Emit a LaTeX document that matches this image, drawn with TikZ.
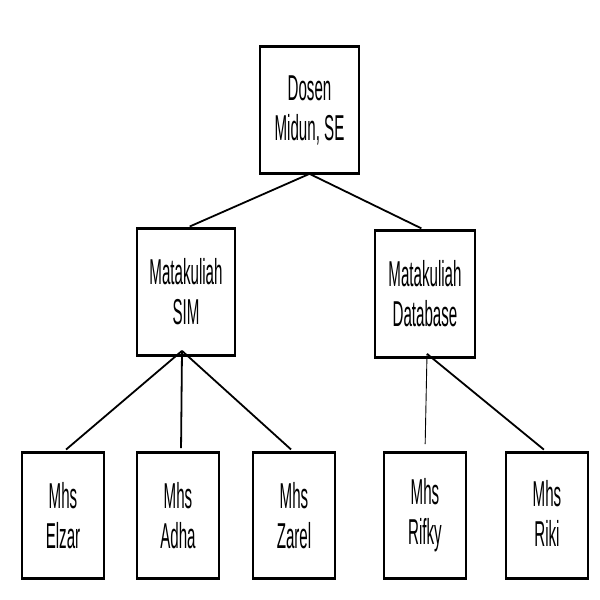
\documentclass[tikz,border=0pt]{standalone}
\usepackage{fontspec}
\setmainfont[FakeStretch=0.42]{Liberation Sans}
\usepackage{tikz}
\usetikzlibrary{calc}

\begin{document}
\begin{tikzpicture}[x=1pt,y=1pt]
		\tikzstyle{every node}=[font=\fontsize{36}{40}\selectfont]
		\tikzstyle{box}=[draw, line width=1.7pt, align=center, inner sep=0pt, minimum height=126pt]
		\tikzstyle{link}=[line width=1.8pt, shorten >=4pt]
		\useasboundingbox (0,0) rectangle (600,600);
		
		% dosen
		\node [box, minimum width=99pt] (dosen) at (309.5,490) {Dosen\\Midun, SE};
		
		% matakuliah
		\node [box, minimum width=98pt] (sim) at (186,308) {Matakuliah\\SIM};
		\node [box, minimum width=100pt] (db) at (425,306) {Matakuliah\\Database};
		
		% mahasiswa
		\node [box, minimum width=82pt, minimum height=125pt] (elzar) at (63,84.5) {Mhs\\Elzar};
		\node [box, minimum width=82pt, minimum height=125pt] (adha) at (178,84.5) {Mhs\\Adha};
		\node [box, minimum width=82pt, minimum height=125pt] (zarel) at (294,84.5) {Mhs\\Zarel};
		\node [box, minimum width=82pt, minimum height=125pt] (rifky) at (425,84.5) {Mhs\\Rifky};
		\node [box, minimum width=82pt, minimum height=125pt, text depth=4pt] (riki) at (547,84.5) {Mhs\\Riki};
		
		\foreach \n in {dosen,sim,db,elzar,adha,zarel,rifky,riki}{
			\draw [line width=3pt] (\n.north west) -- (\n.north east);
			\draw [line width=3pt] (\n.south west) -- (\n.south east);
		}
		
		\draw [link] (dosen.south) -- (sim.north);
		\draw [link] (dosen.south) -- (db.north);
		
		\coordinate (simfoot) at ($(sim.south)+(-4,5)$);
		\draw [link] (simfoot) -- (elzar.north);
		\draw [link] (simfoot) -- ($(adha.north)+(3,0)$);
		\draw [link] (simfoot) -- (zarel.north);
		
		\coordinate (dbfoot) at ($(db.south)+(2,4)$);
		\draw [link, line width=0.9pt, shorten >=8pt] (dbfoot) -- (rifky.north);
		\draw [link] (dbfoot) -- (riki.north);
		
\end{tikzpicture}
\end{document}
